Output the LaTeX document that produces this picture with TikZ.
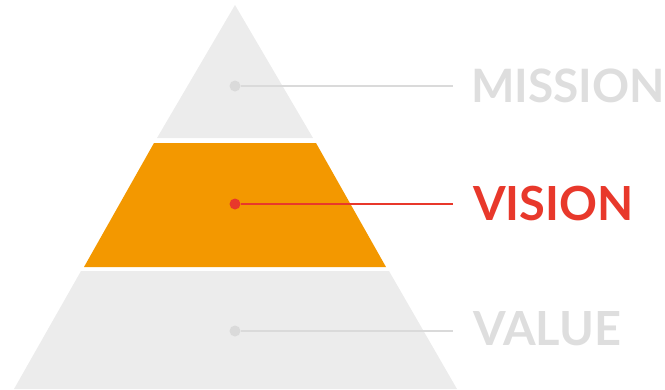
\documentclass[tikz,border=0pt]{standalone}
\usepackage{fontspec}
\setmainfont{Lato}
\newlength{\du}
\setlength{\du}{1pt}

\begin{document}
\begin{tikzpicture}
\pgftransformxscale{1.000000}
\pgftransformyscale{-1.000000}
\definecolor{layergrey}{rgb}{0.925000, 0.925000, 0.925000}
\definecolor{layerorange}{rgb}{0.953000, 0.596000, 0.000000}
\definecolor{linegrey}{rgb}{0.855000, 0.855000, 0.855000}
\definecolor{textgrey}{rgb}{0.870000, 0.870000, 0.870000}
\definecolor{visionred}{rgb}{0.910000, 0.220000, 0.170000}
\tikzset{
  dot/.style={circle, inner sep=0pt, minimum size=11\du},
  label/.style={anchor=west, inner sep=0pt, font=\fontsize{47}{47}\selectfont\bfseries},
}
\useasboundingbox (0\du,0\du) rectangle (665\du,389\du);
% pyramid layers
\fill[layergrey] (235\du,5\du)--(157\du,138\du)--(313\du,138\du)--cycle;
\fill[layerorange] (154\du,143\du)--(84\du,267\du)--(386\du,267\du)--(316\du,143\du)--cycle;
\fill[layergrey] (81\du,271\du)--(14\du,389\du)--(457\du,389\du)--(389\du,271\du)--cycle;
% mission
\node[dot, fill=linegrey] (missiondot) at (235\du,86\du) {};
\coordinate (missionend) at (453\du,86\du);
\node[label, text=textgrey, font=\fontsize{46}{46}\selectfont\bfseries] (mission) at (471\du,86\du) {MISSION};
\draw[linegrey, line width=2\du] (missiondot) -- (missionend);
% vision
\node[dot, fill=visionred] (visiondot) at (235\du,204\du) {};
\coordinate (visionend) at (453\du,204\du);
\node[label, text=visionred] (vision) at (473\du,204\du) {VISION};
\draw[visionred, line width=2.6\du] (visiondot) -- (visionend);
% value
\node[dot, fill=linegrey] (valuedot) at (235\du,331\du) {};
\coordinate (valueend) at (453\du,331\du);
\node[label, text=textgrey] (value) at (473\du,329\du) {VALUE};
\draw[linegrey, line width=2\du] (valuedot) -- (valueend);
\end{tikzpicture}
\end{document}
